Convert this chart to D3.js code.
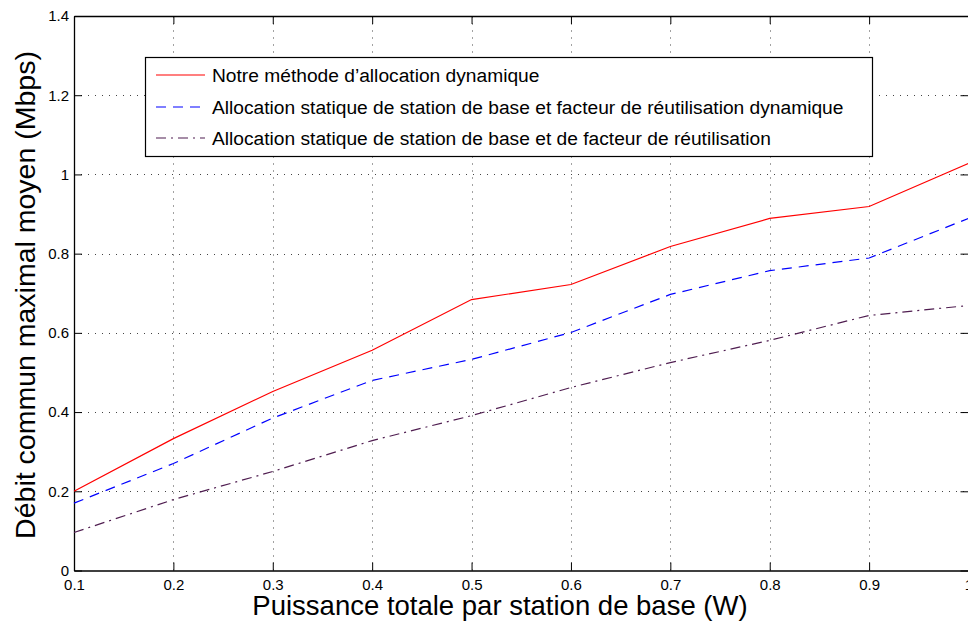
<!DOCTYPE html>
<html><head><meta charset="utf-8">
<script src="https://cdn.jsdelivr.net/npm/d3@7"></script>
<style>
html,body{margin:0;padding:0;background:#fff;overflow:hidden}
text{font-family:"Liberation Sans",Arial,sans-serif;fill:#000}
</style></head>
<body><svg id="c" width="968" height="625"></svg>
<script>
const xValues = [0.1,0.2,0.3,0.4,0.5,0.6,0.7,0.8,0.9,1.0];
const seriesNames = [
  "Notre méthode d’allocation dynamique",
  "Allocation statique de station de base et facteur de réutilisation dynamique",
  "Allocation statique de station de base et de facteur de réutilisation"
];
const redValues = [0.200,0.333,0.452,0.556,0.684,0.722,0.818,0.889,0.919,1.028];
const blueValues = [0.170,0.270,0.385,0.480,0.533,0.601,0.697,0.757,0.789,0.889];
const purpleValues = [0.096,0.179,0.250,0.328,0.391,0.462,0.525,0.581,0.644,0.669];
const xTicks = [0.1,0.2,0.3,0.4,0.5,0.6,0.7,0.8,0.9,1];
const yTicks = [0,0.2,0.4,0.6,0.8,1,1.2,1.4];
const xTitle = "Puissance totale par station de base (W)";
const yTitle = "Débit commun maximal moyen (Mbps)";

const svg = d3.select("#c");
const L = 74, R = 968.5, T = 16, B = 570.5;
const x = d3.scaleLinear().domain([0.1,1]).range([L,R]);
const y = d3.scaleLinear().domain([0,1.4]).range([B,T]);

// grid
const grid = svg.append("g");
xTicks.forEach(v=>{
  if (v===0.1||v===1) return;
  grid.append("line").attr("x1",Math.round(x(v))+0.5).attr("x2",Math.round(x(v))+0.5)
    .attr("y1",B).attr("y2",T).attr("stroke","#444").attr("stroke-width",1).attr("stroke-dasharray","1,6");
});
yTicks.forEach(v=>{
  if (v===0||v===1.4) return;
  grid.append("line").attr("y1",Math.round(y(v))+0.5).attr("y2",Math.round(y(v))+0.5)
    .attr("x1",L).attr("x2",R).attr("stroke","#444").attr("stroke-width",1).attr("stroke-dasharray","1,6");
});

// axes
const xAxisB = d3.axisBottom(x).tickValues(xTicks).tickFormat(d=>d===1?"1":d3.format(".1f")(d)).tickSizeInner(-8).tickSizeOuter(0).tickPadding(8.5);
const gxb = svg.append("g").attr("transform",`translate(0,${B})`).call(xAxisB);
const xAxisT = d3.axisTop(x).tickValues(xTicks).tickFormat("").tickSizeInner(-8).tickSizeOuter(0);
const gxt = svg.append("g").attr("transform",`translate(0,${T})`).call(xAxisT);
const yAxisL = d3.axisLeft(y).tickValues(yTicks).tickFormat(d=>d===0?"0":(d===1?"1":d3.format(".1f")(d))).tickSizeInner(-8).tickSizeOuter(0).tickPadding(5);
const gyl = svg.append("g").attr("transform",`translate(${L},0)`).call(yAxisL);
const yAxisR = d3.axisRight(y).tickValues(yTicks).tickFormat("").tickSizeInner(-8).tickSizeOuter(0);
const gyr = svg.append("g").attr("transform",`translate(${R},0)`).call(yAxisR);
[gxb,gxt,gyl,gyr].forEach(g=>{
  g.attr("font-size",15).attr("font-family","Liberation Sans, Arial, sans-serif");
  g.selectAll("path.domain").attr("stroke","#000").attr("stroke-width",1.3);
  g.selectAll(".tick line").attr("stroke","#000").attr("stroke-width",1);
  g.selectAll("text").attr("font-size",15).style("font-size","15px").attr("fill","#000");
});

// lines
const line = d3.line().x((d,i)=>x(xValues[i])).y(d=>y(d));
const series = [
  {vals:redValues, color:"#ff0000", dash:null},
  {vals:blueValues, color:"#0000ff", dash:"10,7"},
  {vals:purpleValues, color:"#4f1d50", dash:"10,5,2,5"}
];
series.forEach(s=>{
  svg.append("path").datum(s.vals).attr("d",line).attr("fill","none")
    .attr("stroke",s.color).attr("stroke-width",1.2)
    .attr("stroke-dasharray",s.dash);
});

// legend
const lg = svg.append("g");
lg.append("rect").attr("x",145.5).attr("y",57.5).attr("width",727).attr("height",99)
  .attr("fill","#fff").attr("stroke","#000").attr("stroke-width",1.2);
const ly = [75,107,138];
series.forEach((s,i)=>{
  lg.append("line").attr("x1",156).attr("x2",205).attr("y1",ly[i]).attr("y2",ly[i])
    .attr("stroke",s.color).attr("stroke-width",1.2).attr("stroke-dasharray",s.dash);
  lg.append("text").attr("x",212).attr("y",ly[i]+7).style("font-size","19.2px").text(seriesNames[i]);
});

// titles
svg.append("text").attr("x",500).attr("y",615).attr("text-anchor","middle")
  .style("font-size","27.5px").text(xTitle);
svg.append("text").attr("transform",`translate(35,295) rotate(-90)`).attr("text-anchor","middle")
  .style("font-size","28.5px").text(yTitle);
</script></body></html>
